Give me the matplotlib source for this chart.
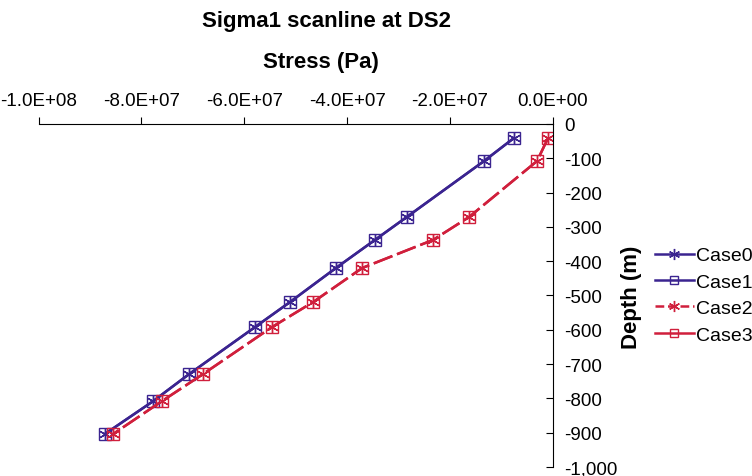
## sigma1 scanline chart
import matplotlib
matplotlib.use("Agg")
import matplotlib.pyplot as plt
from matplotlib.lines import Line2D
from matplotlib.ticker import FuncFormatter, MultipleLocator

plt.rcParams['font.family'] = ['Liberation Sans', 'DejaVu Sans']

depth = [-41, -108, -271, -338, -420, -519, -592, -729, -808, -904]

case0 = [-7.6e6, -1.34e7, -2.84e7, -3.46e7, -4.22e7, -5.11e7, -5.79e7, -7.07e7, -7.77e7, -8.71e7]
case1 = [-7.6e6, -1.34e7, -2.84e7, -3.46e7, -4.22e7, -5.11e7, -5.79e7, -7.07e7, -7.77e7, -8.71e7]
case2 = [-9.7e5, -3.1e6, -1.63e7, -2.33e7, -3.71e7, -4.66e7, -5.46e7, -6.80e7, -7.60e7, -8.55e7]
case3 = [-9.7e5, -3.1e6, -1.63e7, -2.33e7, -3.71e7, -4.66e7, -5.46e7, -6.80e7, -7.60e7, -8.55e7]

blue = '#3b2490'
red = '#d01f3c'
star = (6, 2, 0)
dash = (0, (8, 2))

fig = plt.figure(figsize=(7.52, 4.77), dpi=100)
ax = fig.add_axes([0.0512, 0.019, 0.6842, 0.719])

ax.plot(case0, depth, color=blue, lw=1.8, marker=star, ms=9, mew=1)
ax.plot(case1, depth, color=blue, lw=1.8, marker='s', ms=8.5, mfc='none', mew=1)
ax.plot(case3, depth, color=red, lw=1.8, ls=dash, marker='s', ms=8.5, mfc='none', mew=1)
ax.plot(case2, depth, color=red, lw=1.8, ls=dash, marker=star, ms=9, mew=1)

ax.set_xlim(-1e8, 0)
ax.set_ylim(-1000, 0)
ax.xaxis.set_major_locator(MultipleLocator(2e7))
ax.yaxis.set_major_locator(MultipleLocator(100))
ax.xaxis.set_major_formatter(FuncFormatter(lambda v, p: '%.1E' % v))
ax.yaxis.set_major_formatter(FuncFormatter(lambda v, p: '{:,.0f}'.format(v)))

ax.xaxis.tick_top()
ax.yaxis.tick_right()
ax.spines['left'].set_visible(False)
ax.spines['bottom'].set_visible(False)
ax.tick_params(axis='x', direction='out', length=5, labelsize=13.5, pad=5.5)
ax.tick_params(axis='y', direction='in', length=5, labelsize=13.5, pad=8)

fig.text(0.434, 0.954, 'Sigma1 scanline at DS2', fontsize=16, fontweight='bold', ha='center', va='center')
fig.text(0.427, 0.868, 'Stress (Pa)', fontsize=16, fontweight='bold', ha='center', va='center')
fig.text(0.840, 0.377, 'Depth (m)', fontsize=16, fontweight='bold', ha='center', va='center', rotation=90)

handles = [
    Line2D([], [], color=blue, lw=1.8, marker=star, ms=8, mew=1),
    Line2D([], [], color=blue, lw=1.8, marker='s', ms=5.5, mfc='none', mew=1),
    Line2D([], [], color=red, lw=1.8, ls=(0, (3.5, 1.5)), marker=star, ms=8, mew=1),
    Line2D([], [], color=red, lw=1.8, marker='s', ms=5.5, mfc='none', mew=1),
]
fig.legend(handles, ['Case0', 'Case1', 'Case2', 'Case3'], loc='center left',
           bbox_to_anchor=(0.871, 0.379), frameon=False, fontsize=14,
           handlelength=2.0, handletextpad=0.1, labelspacing=0.45, borderpad=0,
           borderaxespad=0)

fig.savefig('out.png', dpi=100)
